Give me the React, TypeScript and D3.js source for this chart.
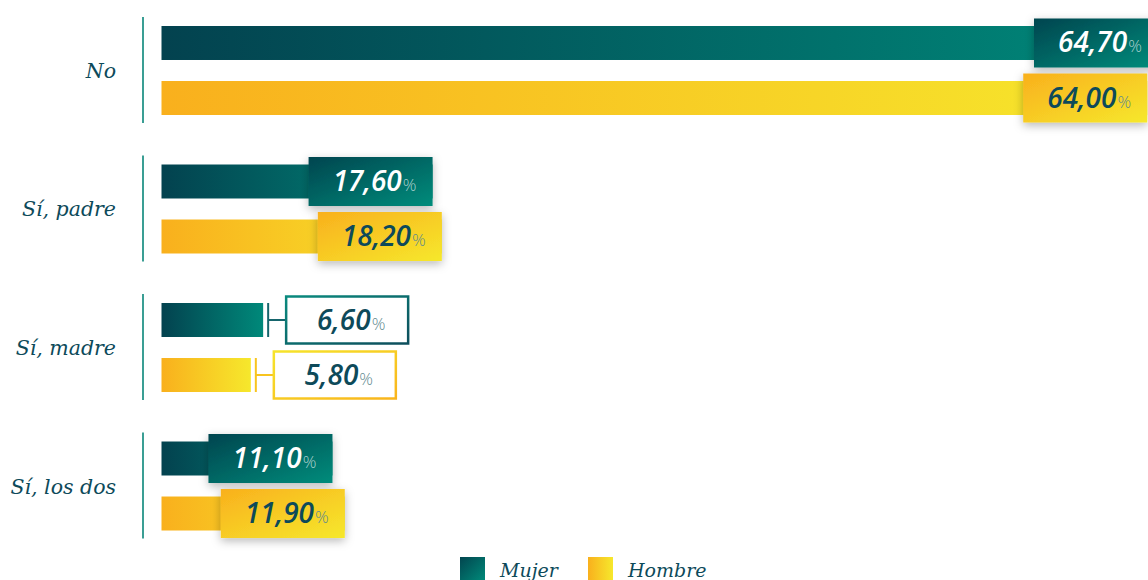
import React from "react";
import * as d3 from "d3";

const categories = ["No", "Sí, padre", "Sí, madre", "Sí, los dos"];
const series = ["Mujer", "Hombre"];
const mujer = [64.7, 17.6, 6.6, 11.1];
const hombre = [64.0, 18.2, 5.8, 11.9];
const valueLabels = [
  ["64,70", "17,60", "6,60", "11,10"],
  ["64,00", "18,20", "5,80", "11,90"],
];

const W = 1148;
const H = 580;
const TEAL = "#0d4a5a";
const LABEL_FONT = "'DejaVu Serif', serif";
const VALUE_FONT = "'Open Sans', Lato, sans-serif";

export default function App() {
  const y = d3
    .scaleBand<string>()
    .domain(categories)
    .range([17, 17 + 4 * 138.5 - 32.5])
    .paddingInner(0.2347)
    .paddingOuter(0);
  const ys = d3.scaleBand<string>().domain(series).range([9, 98]).paddingInner(0.382);
  const x = d3.scaleLinear().domain([0, 64.7]).range([161.5, 1158]);
  const boxW = 124;
  const boxH = 49;
  const data = [mujer, hombre];

  return (
    <div style={{ position: "absolute", left: 0, top: 0 }}>
      <svg width={W} height={H} style={{ display: "block" }}>
        <defs>
          <linearGradient id="gM" x1="0" y1="0" x2="1" y2="0">
            <stop offset="0%" stopColor="#03424f" />
            <stop offset="100%" stopColor="#00897a" />
          </linearGradient>
          <linearGradient id="gH" x1="0" y1="0" x2="1" y2="0">
            <stop offset="0%" stopColor="#f9b01d" />
            <stop offset="100%" stopColor="#f6e82c" />
          </linearGradient>
          <linearGradient id="gMb" x1="0" y1="0" x2="1" y2="1">
            <stop offset="0%" stopColor="#02454f" />
            <stop offset="100%" stopColor="#008c7b" />
          </linearGradient>
          <linearGradient id="gHb" x1="0" y1="0" x2="1" y2="1">
            <stop offset="0%" stopColor="#f9b01d" />
            <stop offset="100%" stopColor="#f6e82c" />
          </linearGradient>
          <linearGradient id="gMs" x1="0" y1="0" x2="1" y2="1">
            <stop offset="0%" stopColor="#0a8a7e" />
            <stop offset="100%" stopColor="#0d4e5c" />
          </linearGradient>
          <linearGradient id="gHs" x1="0" y1="0" x2="1" y2="1">
            <stop offset="0%" stopColor="#f6e42b" />
            <stop offset="100%" stopColor="#f9b41c" />
          </linearGradient>
          <filter id="sh" x="-30%" y="-50%" width="160%" height="200%">
            <feDropShadow dx="0" dy="3" stdDeviation="5" floodColor="#000" floodOpacity="0.28" />
          </filter>
        </defs>

        {categories.map((c, ci) => {
          const gy = y(c)!;
          return (
            <g key={c}>
              <line x1={143} x2={143} y1={gy} y2={gy + y.bandwidth()} stroke="#3a9e94" strokeWidth={2} />
              <text
                x={116}
                y={gy + y.bandwidth() / 2 + 8}
                textAnchor="end"
                fontFamily={LABEL_FONT}
                fontStyle="italic"
                fontSize={20.5}
                fill={TEAL}
              >
                {c}
              </text>
              {series.map((s, si) => {
                const v = data[si][ci];
                const by = gy + ys(s)!;
                const bh = ys.bandwidth();
                const xe = x(v);
                const x0 = x(0);
                const cy = by + bh / 2;
                const isM = si === 0;
                const inside = xe - x0 >= boxW + 20;
                const textFill = isM && inside ? "#ffffff" : TEAL;
                const pctFill = isM && inside ? "rgba(255,255,255,0.65)" : "#5f8a90";
                const bx = inside ? xe - boxW : xe + 23;
                const bw = inside ? boxW : 122;
                return (
                  <g key={s}>
                    <rect x={x0} y={by} width={xe - x0} height={bh} fill={isM ? "url(#gM)" : "url(#gH)"} />
                    {inside ? (
                      <rect
                        x={bx}
                        y={cy - boxH / 2}
                        width={bw}
                        height={boxH}
                        fill={isM ? "url(#gMb)" : "url(#gHb)"}
                        filter="url(#sh)"
                      />
                    ) : (
                      <g>
                        <line
                          x1={xe + 5}
                          x2={xe + 5}
                          y1={by}
                          y2={by + bh}
                          stroke={isM ? "#16656c" : "#f8c41f"}
                          strokeWidth={2}
                        />
                        <line
                          x1={xe + 5}
                          x2={bx}
                          y1={cy}
                          y2={cy}
                          stroke={isM ? "#16656c" : "#f8c41f"}
                          strokeWidth={2}
                        />
                        <rect
                          x={bx}
                          y={cy - boxH / 2 + 1}
                          width={bw}
                          height={boxH - 2}
                          fill="#fff"
                          stroke={isM ? "url(#gMs)" : "url(#gHs)"}
                          strokeWidth={2.5}
                        />
                      </g>
                    )}
                    <text
                      x={bx + bw / 2 + 4}
                      y={cy + 9.5}
                      textAnchor="middle"
                      fontFamily={VALUE_FONT}
                      fontWeight={600}
                      fontStyle="italic"
                      fontSize={28}
                      fill={textFill}
                    >
                      {valueLabels[si][ci]}
                      <tspan fontSize={17} fontWeight={300} fontStyle="normal" fill={pctFill} dx={1}>
                        %
                      </tspan>
                    </text>
                  </g>
                );
              })}
            </g>
          );
        })}

        {series.map((s, i) => {
          const lx = [460, 588][i];
          return (
            <g key={s}>
              <rect x={lx} y={557} width={25} height={25} fill={i === 0 ? "url(#gMb)" : "url(#gH)"} />
              <text
                x={lx + 40}
                y={577}
                fontFamily={LABEL_FONT}
                fontStyle="italic"
                fontSize={19}
                fill={TEAL}
              >
                {s}
              </text>
            </g>
          );
        })}
      </svg>
    </div>
  );
}
